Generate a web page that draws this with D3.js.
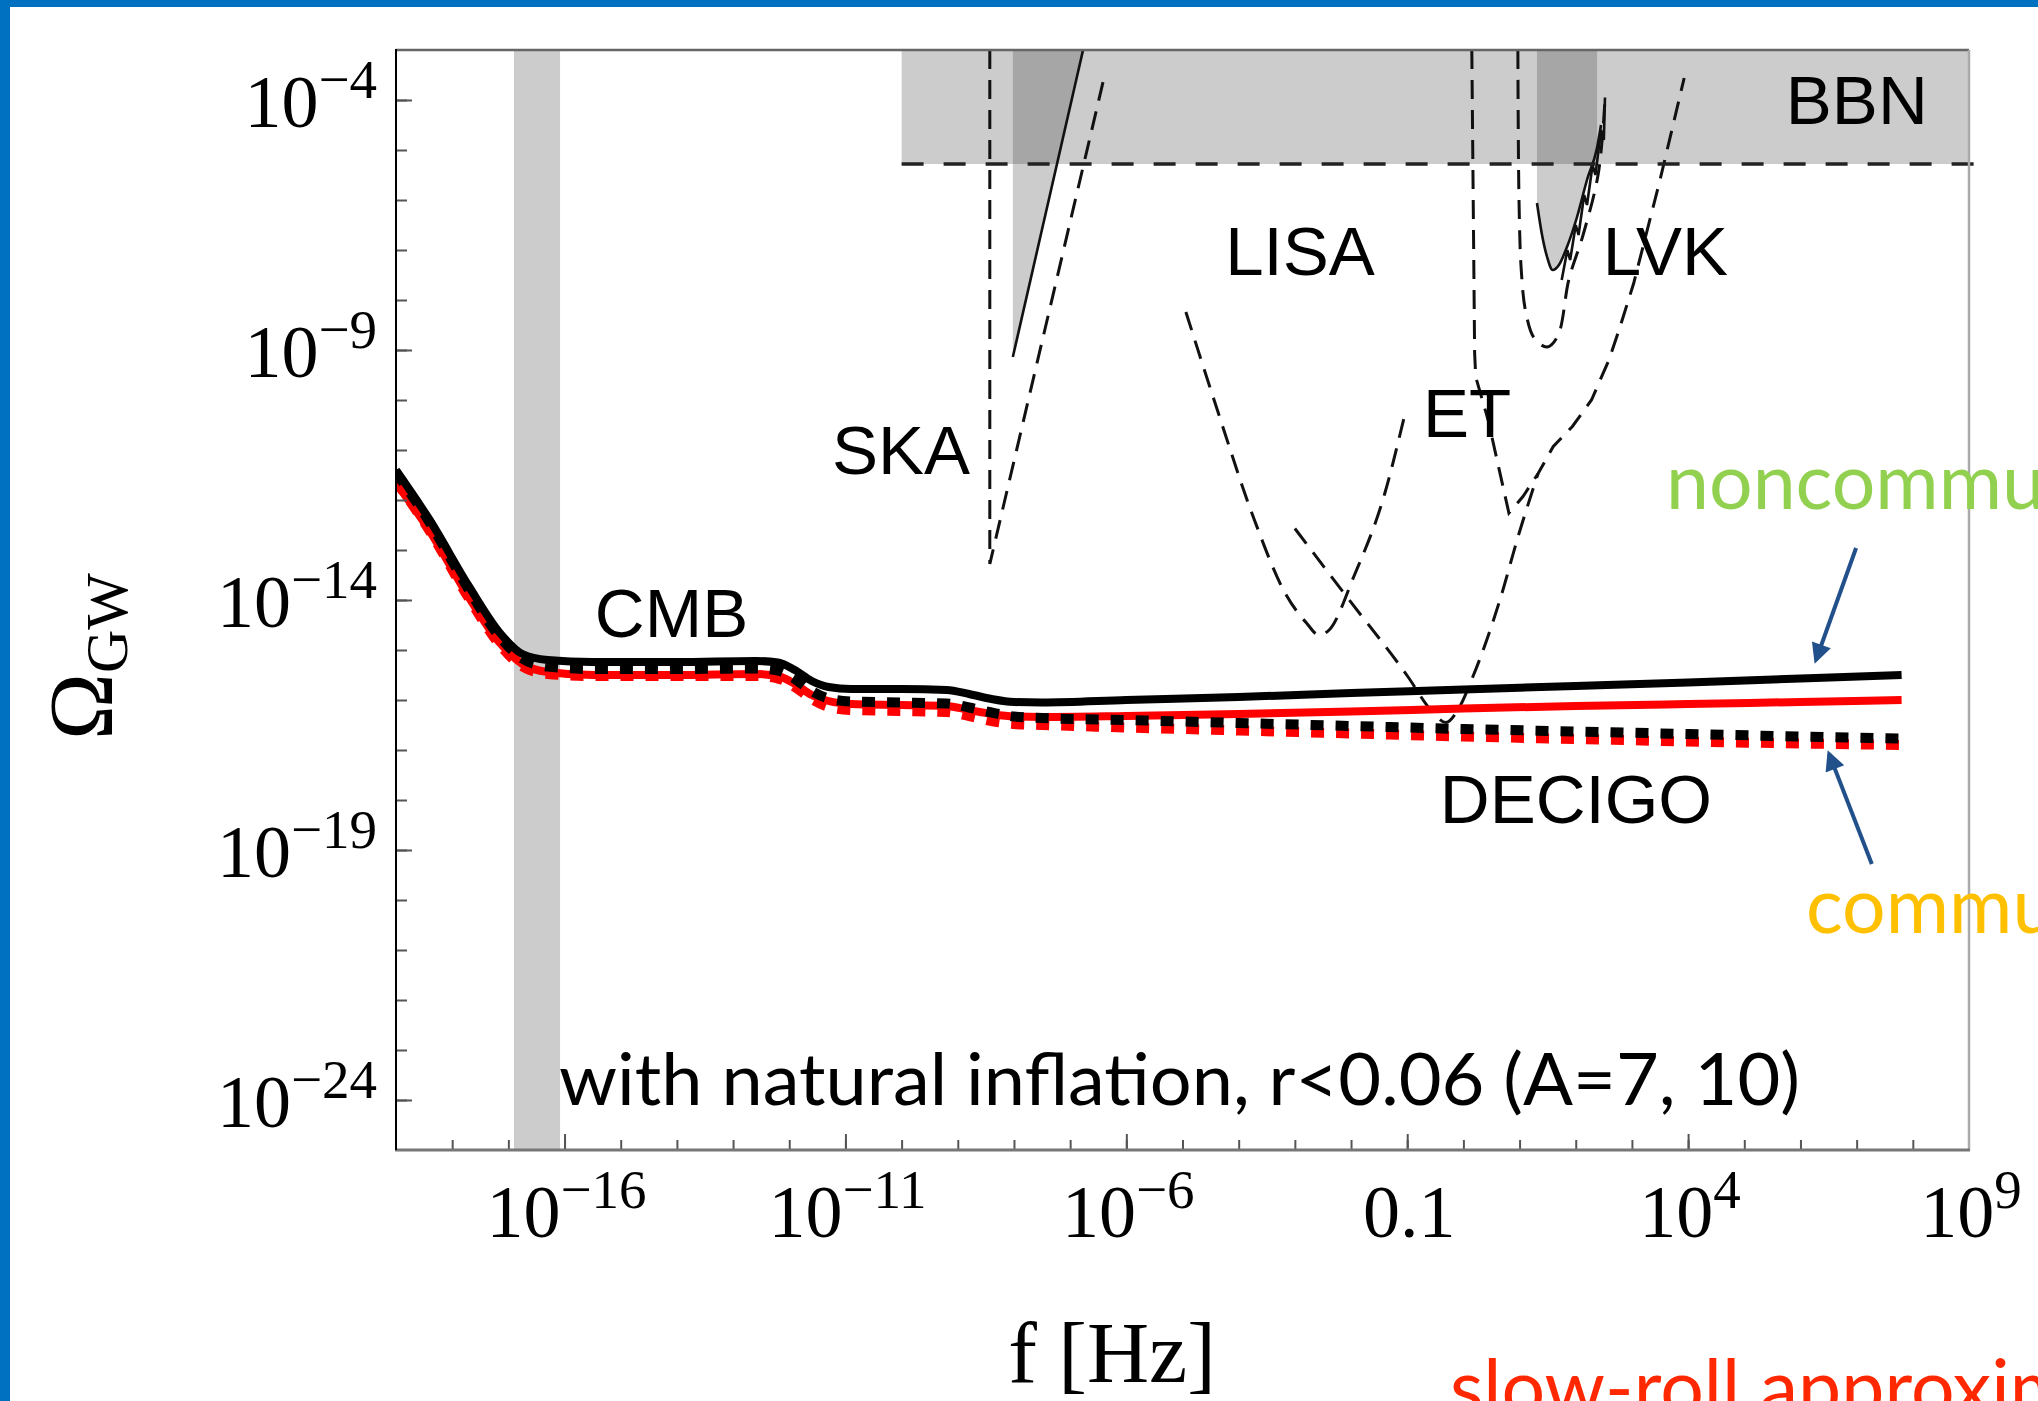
<!DOCTYPE html>
<html>
<head>
<meta charset="utf-8">
<script src="https://cdn.jsdelivr.net/npm/d3@7"></script>
<style>
  body { margin: 0; background: #fff; overflow: hidden; }
  svg { display: block; }
</style>
</head>
<body>
<svg></svg>
<script>
// ---- данные (показатели степени, log10) ----
// общая сетка частот для четырёх модельных кривых
const logFreq = [-19, -18.4, -17.7, -17.15, -16.75, -16.3, -15.5, -14, -12.6, -12.2, -11.9, -11.6, -11.3, -10.9,
  -10, -9.2, -8.8, -8.4, -8.0, -7.5, -6, -4, -2, 0, 2, 4, 6, 7.8];
// некоммутативный случай (сплошные)
const noncommBlack = [-11.4, -12.4, -13.73, -14.66, -15.08, -15.2, -15.24, -15.24, -15.22, -15.25, -15.4, -15.62, -15.74, -15.78,
  -15.78, -15.8, -15.88, -15.98, -16.04, -16.05, -16.0, -15.94, -15.86, -15.79, -15.72, -15.65, -15.57, -15.5];
const noncommRed = [-11.66, -12.62, -13.95, -14.86, -15.28, -15.44, -15.5, -15.5, -15.48, -15.52, -15.68, -15.9, -16.02, -16.08,
  -16.1, -16.12, -16.2, -16.28, -16.33, -16.34, -16.32, -16.28, -16.23, -16.17, -16.12, -16.08, -16.04, -16.0];
// коммутативный случай (пунктир)
const commBlack = [-11.45, -12.45, -13.8, -14.74, -15.17, -15.33, -15.38, -15.38, -15.37, -15.41, -15.58, -15.82, -15.97, -16.03,
  -16.05, -16.07, -16.15, -16.25, -16.33, -16.36, -16.4, -16.46, -16.52, -16.58, -16.63, -16.68, -16.73, -16.77];
const commRed = [-11.62, -12.62, -13.97, -14.9, -15.33, -15.48, -15.52, -15.52, -15.52, -15.57, -15.74, -15.98, -16.14, -16.2,
  -16.22, -16.24, -16.32, -16.42, -16.48, -16.5, -16.55, -16.61, -16.67, -16.73, -16.78, -16.83, -16.87, -16.9];

// чувствительность детекторов: [log10 f, log10 Omega]
const skaCurve = [[-8.43, -3], [-8.43, -13.28], [-6.4, -3.57]];
const ptaLine = [[-6.77, -3], [-8.02, -9.14]];
const ptaRegion = [[-8.02, -3], [-6.77, -3], [-8.02, -9.14]];
const lisaCurve = [[-4.94, -8.24], [-4.4, -10.13], [-3.72, -12.4], [-3.17, -13.87], [-2.8, -14.45], [-2.57, -14.7],
  [-2.39, -14.6], [-1.95, -13.53], [-1.4, -11.87], [-1.06, -10.37]];
const decigoCurve = [[-3.0, -12.57], [-2.08, -13.93], [-0.99, -15.53], [-0.58, -16.2], [-0.31, -16.45], [-0.1, -16.2],
  [0.17, -15.53], [0.65, -14.0], [0.99, -12.67], [1.33, -11.47]];
const etCurve = [[0.15, -3.0], [0.2, -9.06], [0.22, -9.54], [0.44, -10.4], [0.81, -12.26], [1.06, -11.93], [1.33, -11.47],
  [1.6, -10.93], [1.94, -10.53], [2.28, -10.0], [2.59, -9.2], [2.79, -8.53], [3.03, -7.67], [3.5, -5.6], [3.93, -3.56]];
const lvkDesign = [[0.97, -3], [0.99, -6.0], [1.03, -7.4], [1.11, -8.24], [1.26, -8.76], [1.49, -8.94], [1.68, -8.72],
  [1.88, -7.58], [2.13, -6.7], [2.4, -5.48], [2.52, -4.0]];
const lvkO3 = [[1.31, -6.06], [1.4, -6.7], [1.49, -7.14], [1.59, -7.4], [1.7, -7.3], [1.84, -6.95], [2.02, -6.35],
  [2.2, -5.6], [2.38, -4.95], [2.45, -4.5]];
const lvkJagged = [[1.75, -7.6], [1.85, -7.0], [1.9, -7.2], [2.0, -6.5], [2.05, -6.7], [2.15, -5.9], [2.2, -6.1],
  [2.3, -5.3], [2.35, -5.5], [2.45, -4.6], [2.5, -4.8], [2.52, -3.95]];
const cmbBand = [-16.9, -16.08];
const bbnStart = -10;
const bbnLimit = -5.28;

// подписи
const detectorLabels = [
  { text: "CMB", f: -15.46, o: -14.74 },
  { text: "SKA", f: -11.24, o: -11.48 },
  { text: "LISA", f: -4.24, o: -7.5 },
  { text: "ET", f: -0.72, o: -10.74 },
  { text: "LVK", f: 2.48, o: -7.5 },
  { text: "BBN", f: 5.74, o: -4.48 },
  { text: "DECIGO", f: -0.42, o: -18.46 }
];
const xMajorExp = [-16, -11, -6, -1, 4, 9];
const xTickLabels = [["10", "\u221216"], ["10", "\u221211"], ["10", "\u22126"], ["0.1", ""], ["10", "4"], ["10", "9"]];
const yMajorExp = [-4, -9, -14, -19, -24];
const yTickLabels = [["10", "\u22124"], ["10", "\u22129"], ["10", "\u221214"], ["10", "\u221219"], ["10", "\u221224"]];

// ---- svg ----
const width = 2038;
const height = 1401;
let svg = d3.select("svg").attr("width", width).attr("height", height);

const x = d3.scaleLog().domain([1e-19, 1e9]).range([396, 1969]);
const y = d3.scaleLog().domain([1e-25, 1e-3]).range([1150, 50]);
const px = lf => x(Math.pow(10, lf));
const py = lo => y(Math.pow(10, lo));

// синяя рамка слайда
svg.append("rect").attr("x", 0).attr("y", 0).attr("width", 10).attr("height", height).style("fill", "#0070c0");
svg.append("rect").attr("x", 0).attr("y", 0).attr("width", width).attr("height", 7).style("fill", "#0070c0");

let defs = svg.append("defs");
defs.append("clipPath").attr("id", "plotClip").append("rect")
  .attr("x", px(-19)).attr("y", py(-3)).attr("width", px(9) - px(-19)).attr("height", py(-25) - py(-3));
defs.append("clipPath").attr("id", "bbnClip").append("rect")
  .attr("x", px(bbnStart)).attr("y", py(-3)).attr("width", px(9) - px(bbnStart)).attr("height", py(bbnLimit) - py(-3));
defs.append("marker").attr("id", "arrowHead")
  .attr("viewBox", "0 0 10 10").attr("refX", 8).attr("refY", 5)
  .attr("markerWidth", 24).attr("markerHeight", 20).attr("markerUnits", "userSpaceOnUse")
  .attr("orient", "auto")
  .append("path").attr("d", "M0,0 L10,5 L0,10 z").style("fill", "#22508a");

const light = "#cccccc";
const dark = "#a6a6a6";

let plot = svg.append("g").attr("clip-path", "url(#plotClip)");

// серые области
plot.append("rect")
  .attr("x", px(cmbBand[0])).attr("y", py(-3))
  .attr("width", px(cmbBand[1]) - px(cmbBand[0])).attr("height", py(-25) - py(-3))
  .style("fill", light);
plot.append("rect")
  .attr("x", px(bbnStart)).attr("y", py(-3))
  .attr("width", px(9) - px(bbnStart)).attr("height", py(bbnLimit) - py(-3))
  .style("fill", light);

const poly = d3.line().x(d => px(d[0])).y(d => py(d[1]));
const lvkArea = d3.area().x(d => px(d[0])).y0(py(-3)).y1(d => py(d[1])).curve(d3.curveMonotoneX);
const lvkFill = lvkO3.filter(d => d[0] <= 2.38);

[light, dark].forEach((c, i) => {
  let g = plot.append("g");
  if (i === 1) g.attr("clip-path", "url(#bbnClip)");
  g.append("path").attr("d", poly(ptaRegion) + "Z").style("fill", c);
  g.append("path").attr("d", lvkArea(lvkFill)).style("fill", c);
});

// кривые детекторов
function detector(data, curve, dash) {
  plot.append("path")
    .attr("d", d3.line().x(d => px(d[0])).y(d => py(d[1])).curve(curve)(data))
    .style("fill", "none").style("stroke", "#111")
    .style("stroke-width", dash ? 3 : 2.6)
    .style("stroke-dasharray", dash ? "19,11" : null);
}
detector(skaCurve, d3.curveLinear, true);
detector(lisaCurve, d3.curveMonotoneX, true);
detector(decigoCurve, d3.curveMonotoneX, true);
detector(etCurve, d3.curveLinear, true);
detector(lvkDesign, d3.curveCatmullRom, true);
detector(ptaLine, d3.curveLinear, false);
detector(lvkO3, d3.curveMonotoneX, false);
detector(lvkJagged, d3.curveLinear, false);

// модельные кривые
function model(vals, color, w, dash) {
  const pts = logFreq.map((f, i) => [f, vals[i]]);
  plot.append("path")
    .attr("d", d3.line().x(d => px(d[0])).y(d => py(d[1])).curve(d3.curveMonotoneX)(pts))
    .style("fill", "none").style("stroke", color).style("stroke-width", w)
    .style("stroke-dasharray", dash);
}
model(noncommRed, "#ff0000", 8, null);
model(commRed, "#ff0000", 10, "13,12");
model(commBlack, "#000", 10, "13,12");
model(noncommBlack, "#000", 8, null);

// линия BBN (чуть выходит за рамку справа)
svg.append("line")
  .attr("x1", px(bbnStart)).attr("x2", px(9.1))
  .attr("y1", py(bbnLimit)).attr("y2", py(bbnLimit))
  .style("stroke", "#222").style("stroke-width", 3.5).style("stroke-dasharray", "22,20");

// оси и рамка
let axes = svg.append("g");
const minorX = d3.range(-18, 9).map(e => Math.pow(10, e));
const minorY = d3.range(-24, -3).map(e => Math.pow(10, e));
function styleAxis(g) {
  g.select(".domain").remove();
  g.selectAll(".tick line").style("stroke", "#555").style("stroke-width", 2);
}
axes.append("g").attr("transform", `translate(0,${py(-25)})`)
  .call(d3.axisBottom(x).tickValues(minorX).tickSize(-10).tickFormat("")).call(styleAxis);
axes.append("g").attr("transform", `translate(0,${py(-25)})`)
  .call(d3.axisBottom(x).tickValues(xMajorExp.slice(0, 5).map(e => Math.pow(10, e))).tickSize(-16).tickFormat("")).call(styleAxis);
axes.append("g").attr("transform", `translate(${px(-19)},0)`)
  .call(d3.axisLeft(y).tickValues(minorY).tickSize(-11).tickFormat("")).call(styleAxis);
axes.append("g").attr("transform", `translate(${px(-19)},0)`)
  .call(d3.axisLeft(y).tickValues(yMajorExp.map(e => Math.pow(10, e))).tickSize(-16).tickFormat("")).call(styleAxis);

axes.append("line").attr("x1", px(-19)).attr("x2", px(9)).attr("y1", py(-3)).attr("y2", py(-3))
  .style("stroke", "#666").style("stroke-width", 2.5);
axes.append("line").attr("x1", px(9)).attr("x2", px(9)).attr("y1", py(-3)).attr("y2", py(-25))
  .style("stroke", "#aaa").style("stroke-width", 2.5);
axes.append("line").attr("x1", px(-19) - 1).attr("x2", px(9) + 1).attr("y1", py(-25)).attr("y2", py(-25))
  .style("stroke", "#777").style("stroke-width", 3);
axes.append("line").attr("x1", px(-19)).attr("x2", px(-19)).attr("y1", py(-3) - 1).attr("y2", py(-25))
  .style("stroke", "#000").style("stroke-width", 2);

// подписи делений
const serif = "'Liberation Serif', 'Times New Roman', serif";
function powLabel(sel, lab) {
  sel.append("tspan").text(lab[0]);
  if (lab[1]) sel.append("tspan").attr("dy", -29).style("font-size", "55px").text(lab[1]);
}
xMajorExp.forEach((e, i) => {
  let t = axes.append("text").attr("x", px(e) + 2).attr("y", 1237)
    .attr("text-anchor", "middle").style("font-family", serif).style("font-size", "74px").style("fill", "#000");
  powLabel(t, xTickLabels[i]);
});
yMajorExp.forEach((e, i) => {
  let t = axes.append("text").attr("x", 377).attr("y", py(e) + 27)
    .attr("text-anchor", "end").style("font-family", serif).style("font-size", "74px").style("fill", "#000");
  powLabel(t, yTickLabels[i]);
});

// заголовки осей
axes.append("text").attr("x", 1112).attr("y", 1382).attr("text-anchor", "middle")
  .style("font-family", serif).style("font-size", "86px").text("f [Hz]");
let yt = axes.append("text").attr("transform", "translate(112,740) rotate(-90)")
  .style("font-family", serif).style("font-size", "90px");
yt.append("tspan").text("\u03A9");
yt.append("tspan").attr("dy", 15).style("font-size", "60px").text("GW");

// подписи детекторов
detectorLabels.forEach(d => {
  svg.append("text").attr("x", px(d.f)).attr("y", py(d.o))
    .style("font-family", "'Liberation Sans', Arial, sans-serif").style("font-size", "69px").style("fill", "#000")
    .text(d.text);
});

// аннотации слайда
const sans = "Lato, 'Open Sans', sans-serif";
svg.append("text").attr("x", 559).attr("y", 1105)
  .attr("textLength", 1241).attr("lengthAdjust", "spacingAndGlyphs")
  .style("font-family", sans).style("font-size", "72px").style("fill", "#000")
  .text("with natural inflation, r<0.06 (A=7, 10)");
svg.append("text").attr("x", 1666).attr("y", 509)
  .style("font-family", sans).style("font-size", "77px").style("fill", "#92d050").text("noncommutative");
svg.append("text").attr("x", 1806).attr("y", 933)
  .style("font-family", sans).style("font-size", "77px").style("fill", "#ffc000").text("commutative");
svg.append("text").attr("x", 1450).attr("y", 1415)
  .style("font-family", sans).style("font-size", "77px").style("fill", "#ff2800").text("slow-roll approximation");

// стрелки
const arrows = [
  [[6.99, -12.96], [6.276, -15.2]],
  [[7.27, -19.28], [6.51, -17.08]]
];
arrows.forEach(a => {
  svg.append("line")
    .attr("x1", px(a[0][0])).attr("y1", py(a[0][1]))
    .attr("x2", px(a[1][0])).attr("y2", py(a[1][1]))
    .style("stroke", "#22508a").style("stroke-width", 4)
    .attr("marker-end", "url(#arrowHead)");
});
</script>
</body>
</html>
